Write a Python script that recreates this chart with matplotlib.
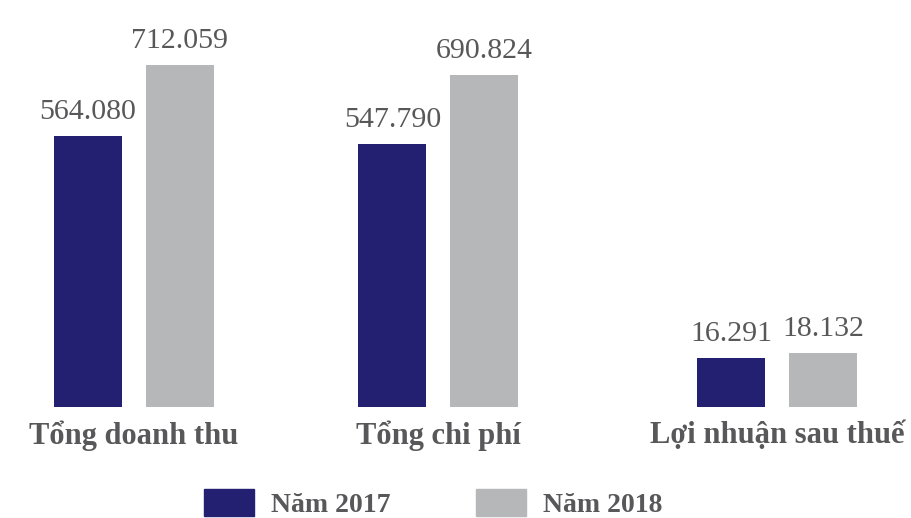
import matplotlib
matplotlib.use("Agg")
import matplotlib.pyplot as plt
from matplotlib.patches import Patch

# data (đơn vị: triệu đồng)
categories = ["Tổng doanh thu", "Tổng chi phí", "Lợi nhuận sau thuế"]
series_names = ["Năm 2017", "Năm 2018"]
values_2017 = [564.080, 547.790, 16.291]
values_2018 = [712.059, 690.824, 18.132]
value_labels_2017 = ["564.080", "547.790", "16.291"]
value_labels_2018 = ["712.059", "690.824", "18.132"]

navy = "#232071"
grey = "#b6b7b9"
text_col = "#58585a"

plt.rcParams["font.family"] = ["Liberation Serif", "DejaVu Serif"]

fig = plt.figure(figsize=(9.12, 5.18), dpi=100)
ax = fig.add_axes([0, 111 / 518, 1, 407 / 518])
ax2 = ax.twinx()  # profit is drawn on its own (smaller) scale

centers = [134, 438.5, 777.5]
bw = 68
off = 46

for a in (ax, ax2):
    for s in a.spines.values():
        s.set_visible(False)
    a.tick_params(left=False, right=False, labelleft=False, labelright=False, bottom=False)
    a.set_xlim(0, 912)
ax.set_ylim(0, 848)
ax2.set_ylim(0, 136)

# first two groups on main axis, profit on twin axis
for i in range(len(categories)):
    target = ax if i < 2 else ax2
    b1 = target.bar(centers[i] - off, values_2017[i], bw, color=navy)
    b2 = target.bar(centers[i] + off, values_2018[i], bw, color=grey)
    target.bar_label(b1, [value_labels_2017[i]], padding=8, fontsize=21.5, color=text_col)
    target.bar_label(b2, [value_labels_2018[i]], padding=8, fontsize=21.5, color=text_col)

ax.set_xticks(centers)
ax.set_xticklabels(categories, fontsize=22, fontweight="bold", color=text_col)
ax.tick_params(axis="x", pad=6)

handles = [Patch(color=navy), Patch(color=grey)]
fig.legend(handles, series_names, loc="lower center", bbox_to_anchor=(0.475, 0.0),
           ncol=2, frameon=False, prop={"size": 20, "weight": "bold"},
           handlelength=1.8, handleheight=1.15, handletextpad=0.6, columnspacing=3.1,
           borderpad=0, borderaxespad=0, labelcolor=text_col)

fig.savefig("out.png", dpi=100)
